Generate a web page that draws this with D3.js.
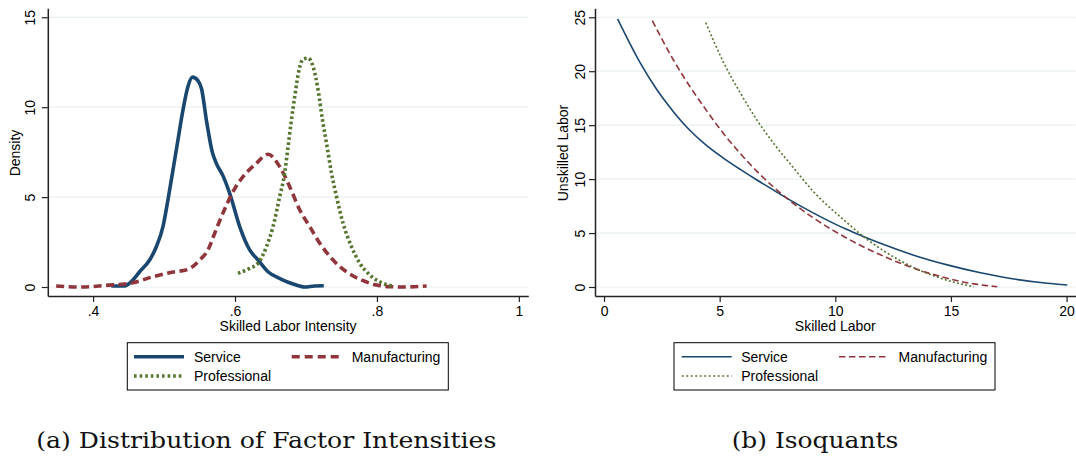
<!DOCTYPE html>
<html>
<head>
<meta charset="utf-8">
<script src="https://cdn.jsdelivr.net/npm/d3@7/dist/d3.min.js"></script>
<style>
  html, body { margin: 0; padding: 0; background: #fff; }
  svg { display: block; }
</style>
</head>
<body>
<svg id="chart" width="1076" height="457"></svg>
<script>
// ---------- DATA ----------
const seriesNames = ["Service", "Manufacturing", "Professional"];

// Panel (a): kernel densities of skilled labor intensity [x, density]
const densService = [
  [0.4257,0.06],[0.4444,0.06],[0.4539,0.30],[0.4656,0.85],[0.4797,1.50],[0.4891,2.24],
  [0.4985,3.36],[0.5055,4.84],[0.5126,6.51],[0.5196,8.18],[0.5267,9.85],[0.5337,11.15],
  [0.5400,11.67],[0.5478,11.48],[0.5530,11.0],[0.5600,9.20],[0.5680,7.50],[0.5740,6.85],
  [0.5831,6.18],[0.5930,5.15],[0.6066,3.36],[0.6207,2.06],[0.6325,1.50],[0.6465,0.85],
  [0.6654,0.43],[0.6818,0.17],[0.6983,0.00],[0.7124,0.06],[0.7251,0.07]
];
const densManufacturing = [
  [0.3480,0.06],[0.3810,0.00],[0.4186,0.09],[0.4561,0.24],[0.4843,0.57],[0.5126,0.83],
  [0.5337,0.98],[0.5502,1.50],[0.5619,2.06],[0.5700,2.85],[0.5760,3.45],[0.5860,4.38],
  [0.5972,5.30],[0.6090,6.02],[0.6302,6.88],[0.6465,7.38],[0.6630,6.69],[0.6771,5.58],
  [0.6913,4.28],[0.7054,3.36],[0.7195,2.43],[0.7382,1.50],[0.7571,0.85],[0.7806,0.35],
  [0.7994,0.11],[0.8182,0.02],[0.8370,0.00],[0.8700,0.06]
];
const densProfessional = [
  [0.6042,0.76],[0.6207,1.04],[0.6325,1.32],[0.6443,2.24],[0.6536,3.36],[0.6630,5.03],
  [0.6700,6.33],[0.6748,7.81],[0.6795,9.29],[0.6842,10.59],[0.6903,12.08],[0.6959,12.67],
  [0.7030,12.73],[0.7100,12.26],[0.7171,10.96],[0.7233,9.29],[0.7289,8.00],[0.7360,6.33],
  [0.7430,5.03],[0.7523,3.54],[0.7642,2.24],[0.7759,1.32],[0.7900,0.67],[0.8041,0.29],
  [0.8206,0.06]
];

// Panel (b): isoquants [skilled, unskilled]
const isoService = [
  [0.59,24.84],[1.56,20.80],[2.28,18.30],[3.00,16.25],[3.72,14.50],[4.44,13.10],[5.16,11.95],
  [5.89,10.90],[6.61,9.92],[7.33,8.98],[8.05,8.05],[9.06,6.85],[10.51,5.32],[11.08,4.80],
  [11.95,4.05],[13.39,2.95],[14.84,2.05],[16.28,1.32],[17.72,0.74],[19.16,0.35],[20.03,0.19]
];
const isoManufacturing = [
  [2.09,24.68],[3.00,21.04],[3.72,18.56],[4.45,16.30],[5.16,14.24],[5.89,12.38],[6.61,10.72],
  [7.33,9.26],[8.05,7.98],[9.06,6.39],[10.51,4.51],[11.95,2.98],[13.39,1.74],[14.84,0.81],
  [15.99,0.29],[17.00,0.03]
];
const isoProfessional = [
  [4.40,24.50],[5.16,20.85],[5.89,18.00],[6.61,15.48],[7.33,13.32],[8.01,11.52],[9.06,8.83],
  [10.51,5.95],[11.08,4.90],[11.95,3.55],[13.39,1.80],[14.84,0.62],[15.99,0.03]
];

const ticksLX = [0.4, 0.6, 0.8, 1];
const ticksLXLabels = [".4", ".6", ".8", "1"];
const ticksLY = [0, 5, 10, 15];
const ticksRX = [0, 5, 10, 15, 20];
const ticksRY = [0, 5, 10, 15, 20, 25];

const titleLX = "Skilled Labor Intensity";
const titleLY = "Density";
const titleRX = "Skilled Labor";
const titleRY = "Unskilled Labor";
const captionA = "(a) Distribution of Factor Intensities";
const captionB = "(b) Isoquants";

// ---------- STYLE ----------
const colors = ["#1a476f", "#90353b", "#55752f"];
const FONT = "'Liberation Sans', Arial, sans-serif";
const FS = 14;
const gridColor = "#e8eff0";

const svg = d3.select("#chart");
svg.append("rect").attr("width", 1076).attr("height", 457).attr("fill", "#fff");

function panel(cfg) {
  const g = svg.append("g");
  const x = cfg.x, y = cfg.y;
  const [x0, x1] = x.range();
  const [yb, yt] = y.range();
  // grid
  g.append("g").selectAll("line").data(cfg.yTicks).join("line")
    .attr("x1", x0).attr("x2", x1)
    .attr("y1", d => y(d)).attr("y2", d => y(d))
    .attr("stroke", gridColor).attr("stroke-width", 1.2);

  // lines
  cfg.series.forEach((s, i) => {
    g.append("path")
      .datum(s.data)
      .attr("fill", "none")
      .attr("stroke", colors[i])
      .attr("stroke-width", cfg.lw)
      .attr("stroke-dasharray", cfg.dash[i])
      .attr("stroke-linejoin", "round")
      .attr("d", d3.line().x(d => x(d[0])).y(d => y(d[1])).curve(d3.curveMonotoneX));
  });

  // axes
  const ax = g.append("g").attr("transform", `translate(0,${yb})`)
    .call(d3.axisBottom(x).tickValues(cfg.xTicks).tickSize(6).tickSizeOuter(0)
      .tickPadding(3).tickFormat((d, i) => cfg.xLabels ? cfg.xLabels[i] : d));
  ax.selectAll("text").attr("font-family", FONT).attr("font-size", FS).attr("fill", "#000")
    .attr("dy", 0).attr("y", 316 - yb);
  const ay = g.append("g").attr("transform", `translate(${x0},0)`)
    .call(d3.axisLeft(y).tickValues(cfg.yTicks).tickSize(6).tickSizeOuter(0));
  ay.selectAll("text").attr("font-family", FONT).attr("font-size", FS).attr("fill", "#000")
    .attr("x", 0).attr("dy", 0).attr("text-anchor", "middle")
    .attr("transform", `translate(${cfg.yLabelBase - x0},0) rotate(-90)`);
  [ax, ay].forEach(a => {
    a.select(".domain").attr("stroke", "#222").attr("stroke-width", 1.5);
    a.selectAll(".tick line").attr("stroke", "#222").attr("stroke-width", 1.2);
  });

  // titles
  g.append("text").attr("x", (x0 + x1) / 2).attr("y", 331)
    .attr("text-anchor", "middle").attr("font-family", FONT).attr("font-size", FS)
    .text(cfg.xTitle);
  g.append("text").attr("transform", `translate(${cfg.yTitleBase},153) rotate(-90)`)
    .attr("text-anchor", "middle").attr("font-family", FONT).attr("font-size", FS)
    .text(cfg.yTitle);

  // legend
  const L = cfg.legend;
  g.append("rect").attr("x", L.x).attr("y", 342.7).attr("width", L.w).attr("height", 47.3)
    .attr("fill", "#fff").attr("stroke", "#000").attr("stroke-width", 1);
  const items = [
    { sx: L.s1, y: 356.7 },
    { sx: L.s2, y: 356.7 },
    { sx: L.s1, y: 376 }
  ];
  items.forEach((it, i) => {
    g.append("line").attr("x1", it.sx).attr("x2", it.sx + 50)
      .attr("y1", it.y).attr("y2", it.y)
      .attr("stroke", colors[i]).attr("stroke-width", cfg.lw)
      .attr("stroke-dasharray", cfg.legDash[i]);
    g.append("text").attr("x", it.sx + L.gap).attr("y", it.y + 5)
      .attr("font-family", FONT).attr("font-size", FS).text(seriesNames[i]);
  });

  // caption
  const cap = svg.append("text").attr("x", cfg.capX).attr("y", 447.7)
    .attr("text-anchor", "middle").attr("font-family", "'DejaVu Serif', serif")
    .attr("font-size", 23).attr("fill", "#111").text(cfg.caption);
  const wl = cap.node().getComputedTextLength();
  if (Math.abs(wl - cfg.capW) > 2) cap.attr("textLength", cfg.capW).attr("lengthAdjust", "spacingAndGlyphs");
}

panel({
  x: d3.scaleLinear().domain([0.3362, 1.0133]).range([47.8, 528.3]),
  y: d3.scaleLinear().domain([-0.5, 15.5]).range([296, 8.3]),
  xTicks: ticksLX, xLabels: ticksLXLabels, yTicks: ticksLY,
  series: [{ data: densService }, { data: densManufacturing }, { data: densProfessional }],
  lw: 3.6,
  dash: [null, "8,4.5", "2.6,2.6"],
  legDash: [null, "8,5", "2.6,3"],
  yLabelBase: 35, yTitleBase: 20,
  xTitle: titleLX, yTitle: titleLY,
  legend: { x: 127.3, w: 321, s1: 134, s2: 291.7, gap: 60 },
  caption: captionA, capX: 266.3, capW: 460
});

panel({
  x: d3.scaleLinear().domain([-0.39, 20.39]).range([595, 1075.6]),
  y: d3.scaleLinear().domain([-0.834, 25.83]).range([296, 8.3]),
  xTicks: ticksRX, xLabels: null, yTicks: ticksRY,
  series: [{ data: isoService }, { data: isoManufacturing }, { data: isoProfessional }],
  lw: 1.6,
  dash: [null, "6.5,3.5", "2,2.2"],
  legDash: [null, "6.5,3.5", "2,2.5"],
  yLabelBase: 585, yTitleBase: 568,
  xTitle: titleRX, yTitle: titleRY,
  legend: { x: 674, w: 321, s1: 681.7, s2: 839, gap: 59.5 },
  caption: captionB, capX: 815, capW: 166.7
});
</script>
</body>
</html>
